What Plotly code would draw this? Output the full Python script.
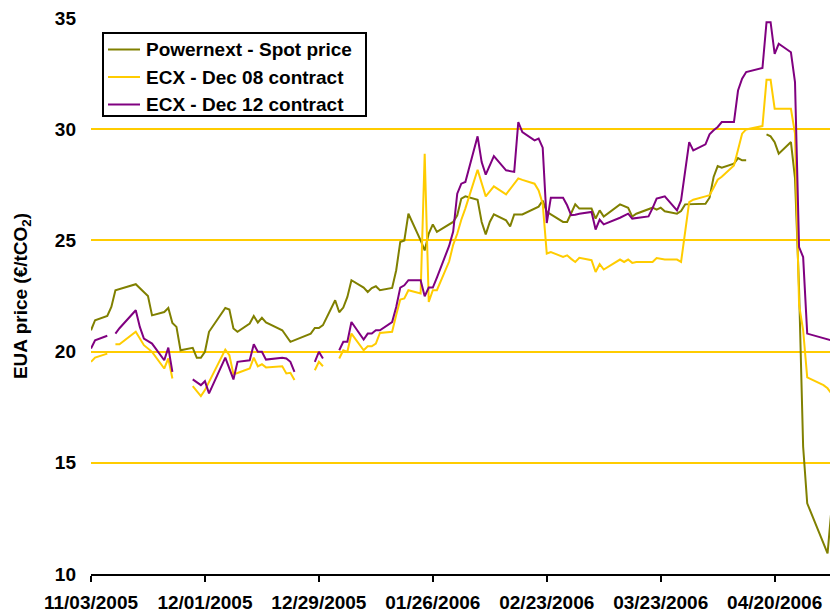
import plotly.graph_objects as go

# ---------------- data ----------------
spot_dates = [
    "2005-11-03", "2005-11-04", "2005-11-07", "2005-11-08", "2005-11-09", "2005-11-11",
    "2005-11-14", "2005-11-17", "2005-11-18", "2005-11-21", "2005-11-22", "2005-11-23",
    "2005-11-24", "2005-11-25", "2005-11-28", "2005-11-29", "2005-11-30", "2005-12-01",
    "2005-12-02", "2005-12-06", "2005-12-07", "2005-12-08", "2005-12-09", "2005-12-12",
    "2005-12-13", "2005-12-14", "2005-12-15", "2005-12-16", "2005-12-20", "2005-12-22",
    "2005-12-27", "2005-12-28", "2005-12-29", "2005-12-30", "2006-01-02", "2006-01-03",
    "2006-01-04", "2006-01-05", "2006-01-06", "2006-01-09", "2006-01-10", "2006-01-11",
    "2006-01-12", "2006-01-13", "2006-01-16", "2006-01-17", "2006-01-18", "2006-01-19",
    "2006-01-20", "2006-01-23", "2006-01-24", "2006-01-25", "2006-01-26", "2006-01-27",
    "2006-01-31", "2006-02-01", "2006-02-02", "2006-02-03", "2006-02-06", "2006-02-07",
    "2006-02-08", "2006-02-09", "2006-02-10", "2006-02-13", "2006-02-14", "2006-02-15",
    "2006-02-17", "2006-02-21", "2006-02-22", "2006-02-23", "2006-02-24", "2006-02-27",
    "2006-02-28", "2006-03-02", "2006-03-03", "2006-03-06", "2006-03-07", "2006-03-08",
    "2006-03-09", "2006-03-13", "2006-03-15", "2006-03-16", "2006-03-17", "2006-03-21",
    "2006-03-22", "2006-03-23", "2006-03-24", "2006-03-27", "2006-03-28", "2006-03-29",
    "2006-04-03", "2006-04-04", "2006-04-05", "2006-04-06", "2006-04-07", "2006-04-10",
    "2006-04-11", "2006-04-12", "2006-04-13", "2006-04-14", "2006-04-18", "2006-04-19",
    "2006-04-20", "2006-04-21", "2006-04-24", "2006-04-25", "2006-04-26", "2006-04-27",
    "2006-04-28", "2006-05-03", "2006-05-04",
]
spot_price = [
    20.96, 21.41, 21.60, 22.01, 22.76, 22.88,
    23.03, 22.50, 21.63, 21.78, 21.96, 21.29,
    21.11, 20.06, 20.17, 19.72, 19.72, 19.99,
    20.89, 21.96, 21.89, 21.04, 20.89, 21.26,
    21.60, 21.31, 21.52, 21.31, 20.96, 20.44,
    20.81, 21.06, 21.06, 21.19, 22.31, 21.77,
    21.98, 22.46, 23.21, 22.88, 22.68, 22.86,
    22.94, 22.76, 22.86, 23.66, 24.93, 25.00,
    26.20, 25.00, 24.55, 25.31, 25.72, 25.38,
    25.83, 26.13, 26.88, 26.98, 26.83, 25.83,
    25.27, 25.83, 26.17, 25.90, 25.63, 26.17,
    26.17, 26.52, 26.79, 26.28, 26.17, 25.83,
    25.83, 26.62, 26.43, 26.43, 25.98, 26.35,
    26.07, 26.62, 26.47, 26.07, 26.20, 26.47,
    26.38, 26.47, 26.31, 26.20, 26.32, 26.62,
    26.65, 26.92, 27.85, 28.34, 28.27, 28.45,
    28.70, 28.60, 28.60, None, 29.77, 29.68,
    29.42, 28.90, 29.42, 27.80, 22.80, 15.72,
    13.18, 10.93, 13.00,
]

ecx_dates = [
    "2005-11-03", "2005-11-04", "2005-11-07", "2005-11-08", "2005-11-09", "2005-11-10",
    "2005-11-14", "2005-11-15", "2005-11-16", "2005-11-18", "2005-11-21", "2005-11-22",
    "2005-11-23", "2005-11-24", "2005-11-28", "2005-11-30", "2005-12-01", "2005-12-02",
    "2005-12-06", "2005-12-07", "2005-12-08", "2005-12-09", "2005-12-12", "2005-12-13",
    "2005-12-14", "2005-12-15", "2005-12-16", "2005-12-20", "2005-12-21", "2005-12-22",
    "2005-12-23", "2005-12-27", "2005-12-28", "2005-12-29", "2005-12-30", "2006-01-02",
    "2006-01-03", "2006-01-04", "2006-01-05", "2006-01-06", "2006-01-09", "2006-01-10",
    "2006-01-11", "2006-01-12", "2006-01-13", "2006-01-16", "2006-01-17", "2006-01-18",
    "2006-01-19", "2006-01-20", "2006-01-23", "2006-01-24", "2006-01-25", "2006-01-26",
    "2006-01-27", "2006-01-30", "2006-01-31", "2006-02-01", "2006-02-02", "2006-02-03",
    "2006-02-06", "2006-02-07", "2006-02-08", "2006-02-09", "2006-02-10", "2006-02-13",
    "2006-02-14", "2006-02-15", "2006-02-16", "2006-02-17", "2006-02-20", "2006-02-21",
    "2006-02-22", "2006-02-23", "2006-02-24", "2006-02-27", "2006-02-28", "2006-03-01",
    "2006-03-02", "2006-03-03", "2006-03-06", "2006-03-07", "2006-03-08", "2006-03-09",
    "2006-03-13", "2006-03-14", "2006-03-15", "2006-03-16", "2006-03-17", "2006-03-20",
    "2006-03-21", "2006-03-22", "2006-03-23", "2006-03-24", "2006-03-27", "2006-03-28",
    "2006-03-30", "2006-03-31", "2006-04-03", "2006-04-04", "2006-04-05", "2006-04-06",
    "2006-04-07", "2006-04-10", "2006-04-11", "2006-04-12", "2006-04-13", "2006-04-17",
    "2006-04-18", "2006-04-19", "2006-04-20", "2006-04-21", "2006-04-24", "2006-04-25",
    "2006-04-26", "2006-04-27", "2006-04-28", "2006-05-02", "2006-05-03", "2006-05-04",
]
dec08_price = [
    19.54, 19.73, 19.91, None, 20.33, 20.33,
    20.89, 20.59, 20.29, 19.99, 19.24, 19.69,
    18.79, None, 18.45, 18.00, 18.27, 18.64,
    20.09, 19.84, 18.98, 19.04, 19.24, 19.73,
    19.34, 19.43, 19.29, 19.34, 19.02, 19.05,
    18.72, None, 19.16, 19.54, 19.34, None,
    19.69, 20.06, 19.99, 20.81, 20.06, 20.24,
    20.24, 20.36, 20.84, 20.89, 21.64, 22.34,
    22.39, 22.76, 22.61, 28.90, 22.23, 22.76,
    22.76, 24.05, 24.80, 25.30, 25.93, 26.44,
    28.18, 27.60, 26.98, 27.20, 27.43, 27.07,
    27.30, 27.52, 27.79, 27.72, 27.55, 27.25,
    26.65, 24.41, 24.48, 24.26, 24.33, 24.17,
    24.03, 24.22, 24.11, 23.58, 23.93, 23.69,
    24.14, 24.03, 24.14, 23.99, 24.03, 24.03,
    24.03, 24.21, 24.18, 24.14, 24.14, 24.03,
    26.72, 26.83, 26.98, 27.03, 27.37, 27.73,
    27.86, 28.37, 29.08, 29.80, 29.99, 30.14,
    32.22, 32.22, 30.92, 30.92, 30.92, 29.80,
    22.10, 20.96, 18.84, 18.49, 18.35, 18.10,
]
dec12_price = [
    20.14, 20.51, 20.71, None, 20.81, 21.05,
    21.86, 21.11, 20.59, 20.36, 19.61, 20.18,
    19.09, None, 18.75, 18.49, 18.67, 18.12,
    19.73, 19.26, 18.75, 19.54, 19.61, 20.33,
    19.99, 19.99, 19.64, 19.72, 19.69, 19.54,
    19.09, None, 19.54, 19.99, 19.69, None,
    20.06, 20.44, 20.44, 21.33, 20.54, 20.81,
    20.81, 20.96, 20.96, 21.33, 22.01, 22.88,
    22.98, 23.21, 23.21, 22.49, 22.88, 22.88,
    23.33, 24.75, 25.40, 27.10, 27.55, 27.63,
    29.68, 28.52, 27.96, 28.40, 28.79, 28.15,
    28.10, 28.08, 30.32, 29.87, 29.50, 29.58,
    29.17, 25.78, 26.92, 26.92, 26.58, 26.13,
    26.15, 26.20, 26.28, 25.49, 25.93, 25.72,
    26.02, 26.10, 26.20, 25.98, 26.00, 26.08,
    26.45, 26.88, 26.93, 26.98, 26.35, 26.80,
    29.42, 29.05, 29.32, 29.77, 29.95, 30.10,
    30.32, 30.32, 31.74, 32.27, 32.57, 32.75,
    34.81, 34.81, 33.39, 33.84, 33.46, 32.12,
    24.70, 24.25, 20.81, 20.60, 20.55, 20.50,
]

series_names = ["Powernext - Spot price", "ECX - Dec 08 contract", "ECX - Dec 12 contract"]
tick_dates = ["2005-11-03", "2005-12-01", "2005-12-29", "2006-01-26",
              "2006-02-23", "2006-03-23", "2006-04-20"]
tick_labels = ["11/03/2005", "12/01/2005", "12/29/2005", "01/26/2006",
               "02/23/2006", "03/23/2006", "04/20/2006"]
y_ticks = [10, 15, 20, 25, 30, 35]

# ---------------- figure ----------------
FONT = "Liberation Sans, Arial, sans-serif"
colors = ["#808000", "#FFCC00", "#800080"]

fig = go.Figure()
for name, xs, ys, col in [
    (series_names[0], spot_dates, spot_price, colors[0]),
    (series_names[1], ecx_dates, dec08_price, colors[1]),
    (series_names[2], ecx_dates, dec12_price, colors[2]),
]:
    fig.add_trace(go.Scatter(
        x=xs, y=ys, name=name, mode="lines",
        line=dict(color=col, width=2),
        connectgaps=False, showlegend=False,
    ))

# legend box drawn in paper coordinates (plot area: 739 x 556 px)
PW, PH = 739.0, 556.0
def px_x(px):
    return (px - 91) / PW
def px_y(py):
    return (574 - py) / PH

shapes = [dict(type="rect", xref="paper", yref="paper",
               x0=px_x(103), x1=px_x(366), y0=px_y(116), y1=px_y(33),
               line=dict(color="black", width=2), fillcolor="white", layer="above")]
annotations = []
row_centers = [49.5, 77, 104.5]
for name, col, cy in zip(series_names, colors, row_centers):
    shapes.append(dict(type="line", xref="paper", yref="paper",
                       x0=px_x(108), x1=px_x(140), y0=px_y(cy), y1=px_y(cy),
                       line=dict(color=col, width=2), layer="above"))
    annotations.append(dict(xref="paper", yref="paper", x=px_x(144), y=px_y(cy),
                            xanchor="left", yanchor="middle", showarrow=False,
                            text="<b>" + name + "</b>",
                            font=dict(family=FONT, size=19, color="black")))

fig.update_layout(
    width=830, height=613,
    margin=dict(l=91, r=0, t=18, b=39, autoexpand=False),
    paper_bgcolor="white", plot_bgcolor="white",
    font=dict(family=FONT, size=19, color="black"),
    showlegend=False,
    shapes=shapes, annotations=annotations,
)
fig.update_xaxes(
    type="date", automargin=False,
    range=["2005-11-03", "2006-05-03 14:24"],
    tickmode="array", tickvals=tick_dates, ticktext=tick_labels,
    ticks="outside", ticklen=6, tickwidth=2, tickcolor="black",
    showline=True, linecolor="black", linewidth=2,
    showgrid=False, zeroline=False,
    tickfont=dict(family=FONT, size=19, color="black", weight="bold"),
    ticklabelstandoff=4,
)
fig.update_yaxes(
    range=[10, 35], tickmode="array", tickvals=y_ticks, automargin=False,
    ticks="", showline=False, zeroline=False,
    showgrid=True, gridcolor="#FFCC00", gridwidth=2,
    tickfont=dict(family=FONT, size=19, color="black", weight="bold"),
    ticklabelstandoff=14,
    title=dict(text="<b>EUA price (€/tCO<sub>2</sub>)</b>",
               font=dict(family=FONT, size=19, color="black"), standoff=22),
)

fig.write_html(
    "out.html",
    config={"displayModeBar": False},
    post_script="document.body.style.margin='0px';document.body.style.padding='0px';",
)
